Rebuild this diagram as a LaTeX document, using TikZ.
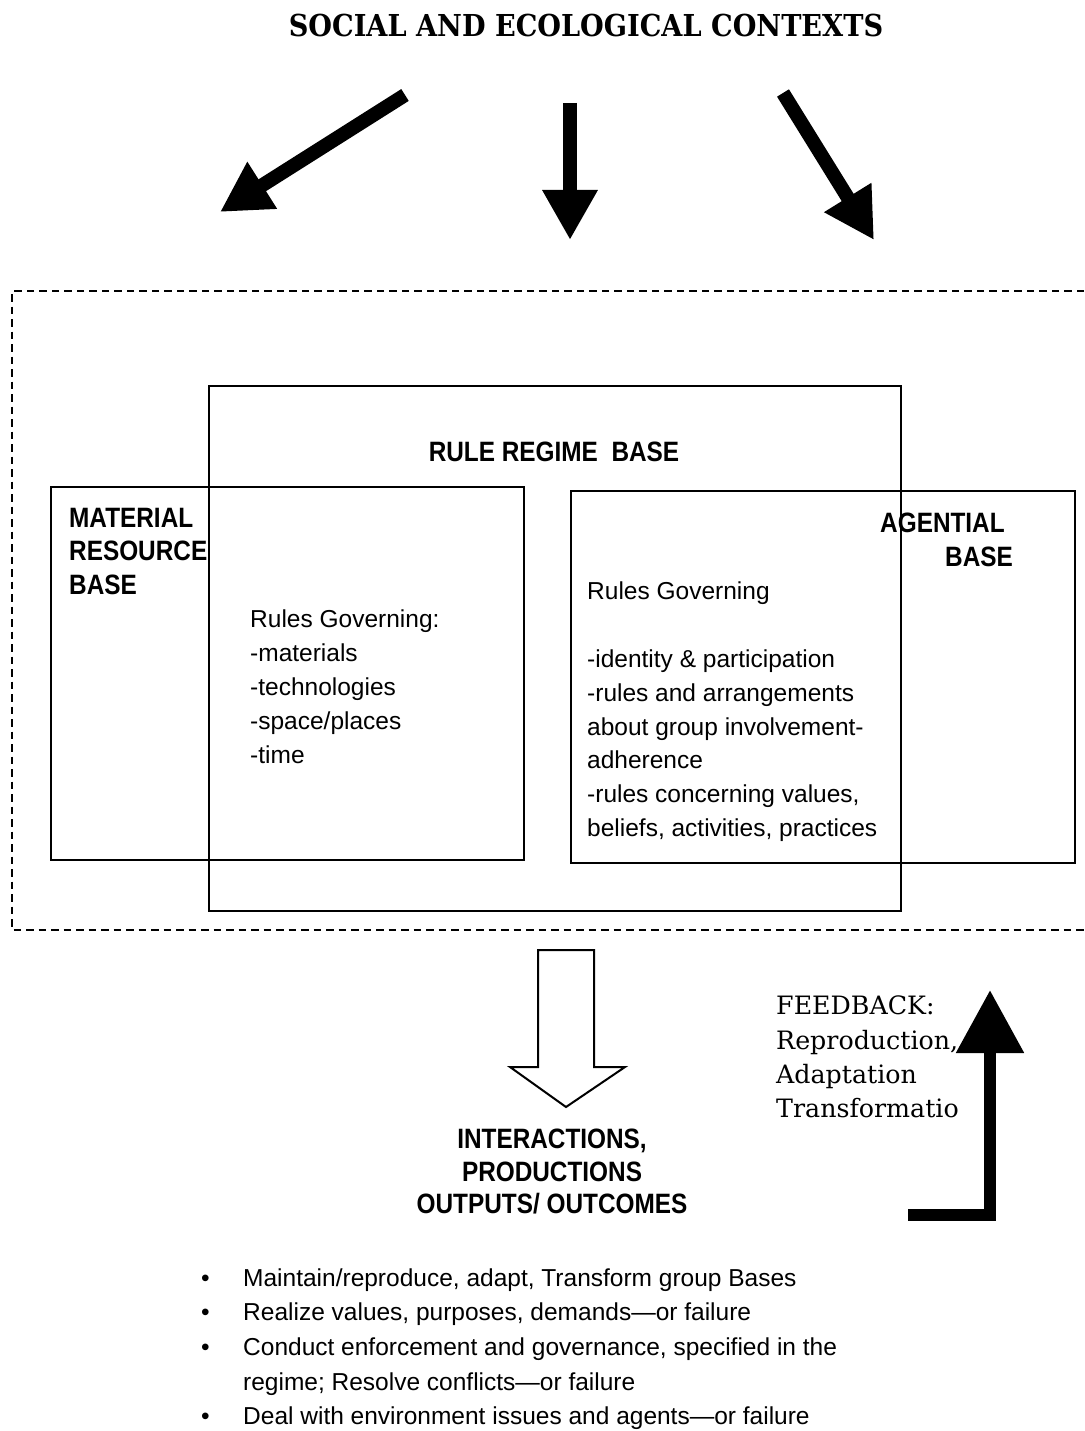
\documentclass[tikz,border=0pt]{standalone}
\usepackage{fontspec}
\setmainfont{Liberation Sans}
\newfontfamily\bsans[FakeStretch=0.87]{Liberation Sans}
\newfontfamily\serift[FakeStretch=0.9]{DejaVu Serif}
\newfontfamily\serifr{DejaVu Serif}
\usetikzlibrary{arrows.meta}
\tikzset{
  box/.style={draw, line width=2pt, inner sep=0pt},
  dashbox/.style={line width=2.5pt, dash pattern=on 7.5pt off 5pt},
  bigarrow/.style={line width=14pt, -{Triangle[length=50pt,width=52pt]}},
  fbarrow/.style={line width=12pt, -{Triangle[length=63pt,width=65pt]}},
  hollow/.style={draw, line width=2pt, fill=white},
  body/.style={font=\fontsize{24.5}{34}\selectfont, inner sep=0pt, align=left},
  heading/.style={font=\bsans\bfseries\fontsize{28}{33.5}\selectfont, inner sep=0pt},
  titlestyle/.style={font=\serift\bfseries\fontsize{30.2}{34}\selectfont, inner sep=0pt},
  fbtext/.style={font=\serifr\fontsize{25.3}{34.3}\selectfont, inner sep=0pt, align=left}
}
\begin{document}
\begin{tikzpicture}[x=1pt,y=-1pt]
\useasboundingbox (0,0) rectangle (1084,1431);

% title
\node[titlestyle] (title) at (586,26) {SOCIAL AND ECOLOGICAL CONTEXTS};

% three context arrows
\coordinate (a1s) at (405,95);  \coordinate (a1e) at (220,212);
\coordinate (a2s) at (570,103); \coordinate (a2e) at (570,240);
\coordinate (a3s) at (783,93);  \coordinate (a3e) at (874,240);
\draw[bigarrow] (a1s) -- (a1e);
\draw[bigarrow] (a2s) -- (a2e);
\draw[bigarrow] (a3s) -- (a3e);

% dashed frame
\draw[dashbox] (1084,291) -- (12,291) -- (12,930) -- (1084,930);

% boxes
\node[box, anchor=north west, minimum width=692pt, minimum height=525pt] (rule) at (208,385) {};
\node[box, anchor=north west, minimum width=473pt, minimum height=373pt] (mat) at (50,486) {};
\node[box, anchor=north west, minimum width=504pt, minimum height=372pt] (age) at (570,490) {};

% headings
\node[heading] (ruleT) at (554,452) {RULE REGIME\ \ BASE};
\node[heading, anchor=north west, align=left] (matT) at (69,508) {MATERIAL\\RESOURCE\\BASE};
\node[heading, anchor=north west, align=left, font=\bsans\bfseries\fontsize{28}{34}\selectfont] (ageT) at (880,513) {AGENTIAL\\\hspace*{65pt}BASE};

% body texts
\node[body, anchor=north west] (lrules) at (250,610)
  {Rules Governing:\\-materials\\-technologies\\-space/places\\-time};
\node[body, anchor=north west, font=\fontsize{24.5}{33.8}\selectfont] (rrules) at (587,582)
  {Rules Governing\\[33.8pt]-identity \& participation\\-rules and arrangements\\about group involvement-\\adherence\\-rules concerning values,\\beliefs, activities, practices};

% output arrow
\draw[hollow] (538,950) -- (594,950) -- (594,1067) -- (625,1067) -- (566,1107) -- (510,1067) -- (538,1067) -- cycle;

% outcomes heading
\node[heading, anchor=north, align=center, font=\bsans\bfseries\fontsize{28}{32.5}\selectfont] (outT) at (552,1129)
  {INTERACTIONS,\\PRODUCTIONS\\OUTPUTS/ OUTCOMES};

% feedback
\node[fbtext, anchor=north west] (fbT) at (776,996) {FEEDBACK:\\Reproduction,\\Adaptation\\Transformatio};
\coordinate (fb1) at (908,1215);
\coordinate (fb2) at (990,1215);
\coordinate (fb3) at (990,990);
\draw[fbarrow] (fb1) -- (fb2) -- (fb3);

% bullet list
\node[inner sep=0pt, anchor=base west, font=\fontsize{24.5}{34.7}\selectfont] (list) at (201,1286)
{\begin{tabular}[t]{@{}l@{}l@{}}
\makebox[42pt][l]{\textbullet} & Maintain/reproduce, adapt, Transform group Bases\\
\makebox[42pt][l]{\textbullet} & Realize values, purposes, demands—or failure\\
\makebox[42pt][l]{\textbullet} & Conduct enforcement and governance, specified in the\\
 & regime; Resolve conflicts—or failure\\
\makebox[42pt][l]{\textbullet} & Deal with environment issues and agents—or failure
\end{tabular}};
\end{tikzpicture}
\end{document}
